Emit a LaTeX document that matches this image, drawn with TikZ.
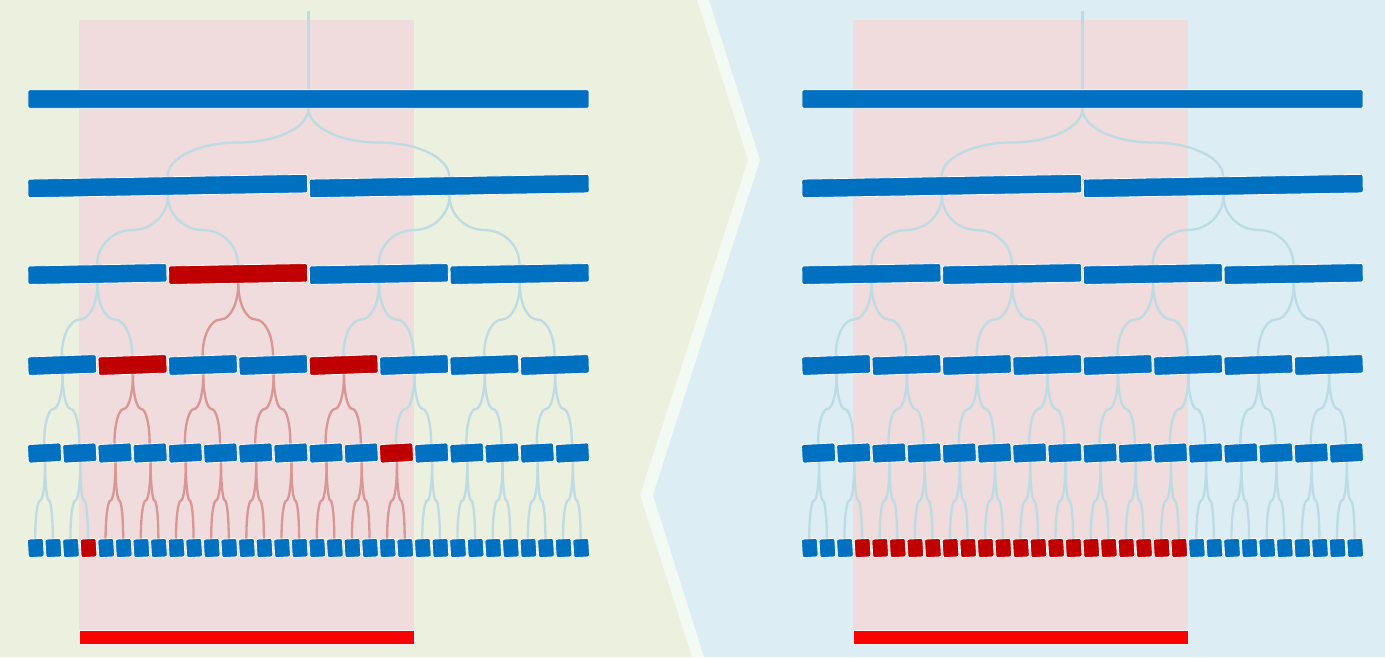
\documentclass[tikz,border=0pt]{standalone}
\usetikzlibrary{calc}

\definecolor{bggreen}{HTML}{ECF0DF}
\definecolor{bgblue}{HTML}{DCEEF4}
\definecolor{stripe}{HTML}{F3FAF3}
\definecolor{rangepink}{HTML}{F0DCDC}
\definecolor{barblue}{HTML}{0070C0}
\definecolor{barred}{HTML}{C00000}
\definecolor{twigblue}{HTML}{BDDBE3}
\definecolor{twigred}{HTML}{DA9595}
\definecolor{rangered}{HTML}{FF0000}

\tikzset{
  segbar/.style={rectangle,rounded corners=2pt,draw=white,line width=0.8pt,fill=barblue,minimum height=18.5pt,inner sep=0pt},
  hot/.style={fill=barred},
  twig/.style={line width=2.3pt},
  L2-1/.style={hot}, L3-1/.style={hot}, L3-4/.style={hot}, L4-10/.style={hot}, L5-3/.style={hot}
}

\newcommand\sprig[3]{%
  \path (#2.south) coordinate (sa) (#3.north) coordinate (sb) ($(sa)!0.5!(sb)$) coordinate (sm);
  \draw[twig,draw=#1] (sa) .. controls ($(sa)!0.55!(sa|-sm)$) and ($(sm)!0.55!(sa|-sm)$) .. (sm)
    .. controls ($(sm)!0.55!(sm-|sb)$) and ($(sb)!0.55!(sm-|sb)$) .. (sb);
}

\begin{document}
\begin{tikzpicture}[x=1pt,y=-1pt]
\useasboundingbox (0,0) rectangle (1385,657);
\fill[stripe] (0,0) rectangle (1385,657);
\fill[bggreen] (0,0) -- (697,0) -- (748,160) -- (640,495) -- (692,657) -- (0,657) -- cycle;
\fill[bgblue] (709,0) -- (1385,0) -- (1385,657) -- (704,657) -- (653,495) -- (760,160) -- cycle;

\fill[rangepink] (79,20) rectangle (414,630);
\fill[rangepink] (853,20) rectangle (1188,630);
\path[fill=rangered,draw=white!60!rangepink,line width=1pt] (79,630) rectangle (414,644);
\path[fill=rangered,draw=white!60!rangepink,line width=1pt] (853,630) rectangle (1188,644);

% left tree
\foreach \k/\y/\a in {0/99/0,1/186/1,2/274/1,3/365/2,4/453/3,5/548/3.5}{
  \pgfmathtruncatemacro\n{2^\k-1}
  \pgfmathsetmacro\w{563/2^\k}
  \foreach \i in {0,...,\n}
    \path (27+\i*\w+\w/2,\y) node[segbar,minimum width=\w pt-1.8pt,rotate=\a,L\k-\i/.try] (L\k-\i) {};
}

% right tree
\foreach \k/\y/\a in {0/99/0,1/186/1,2/274/1,3/365/2,4/453/3,5/548/3.5}{
  \pgfmathtruncatemacro\n{2^\k-1}
  \pgfmathsetmacro\w{563/2^\k}
  \foreach \i in {0,...,\n}{
    \pgfmathtruncatemacro\hit{\k==5 && \i>2 && \i<22}
    \ifnum\hit=1 \def\c{barred}\else\def\c{barblue}\fi
    \path (801+\i*\w+\w/2,\y) node[segbar,fill=\c,minimum width=\w pt-1.8pt,rotate=\a] (R\k-\i) {};
  }
}

\coordinate (Ltop) at (308.5,11);
\coordinate (Rtop) at (1082.5,11);
\draw[twig,draw=twigblue,line width=2.6pt] (Ltop) -- (L0-0.north);
\draw[twig,draw=twigblue,line width=2.6pt] (Rtop) -- (R0-0.north);

\foreach \k/\lo/\hi in {0/1/0,1/1/0,2/1/1,3/1/4,4/2/10}{
  \pgfmathtruncatemacro\n{2^\k-1}
  \pgfmathtruncatemacro\kk{\k+1}
  \foreach \i in {0,...,\n}{
    \pgfmathtruncatemacro\ca{2*\i}
    \pgfmathtruncatemacro\cb{2*\i+1}
    \pgfmathtruncatemacro\hit{\i>\lo-1 && \i<\hi+1}
    \ifnum\hit=1 \def\s{twigred}\else\def\s{twigblue}\fi
    \sprig{\s}{L\k-\i}{L\kk-\ca}
    \sprig{\s}{L\k-\i}{L\kk-\cb}
    \sprig{twigblue}{R\k-\i}{R\kk-\ca}
    \sprig{twigblue}{R\k-\i}{R\kk-\cb}
  }
}
\end{tikzpicture}
\end{document}
